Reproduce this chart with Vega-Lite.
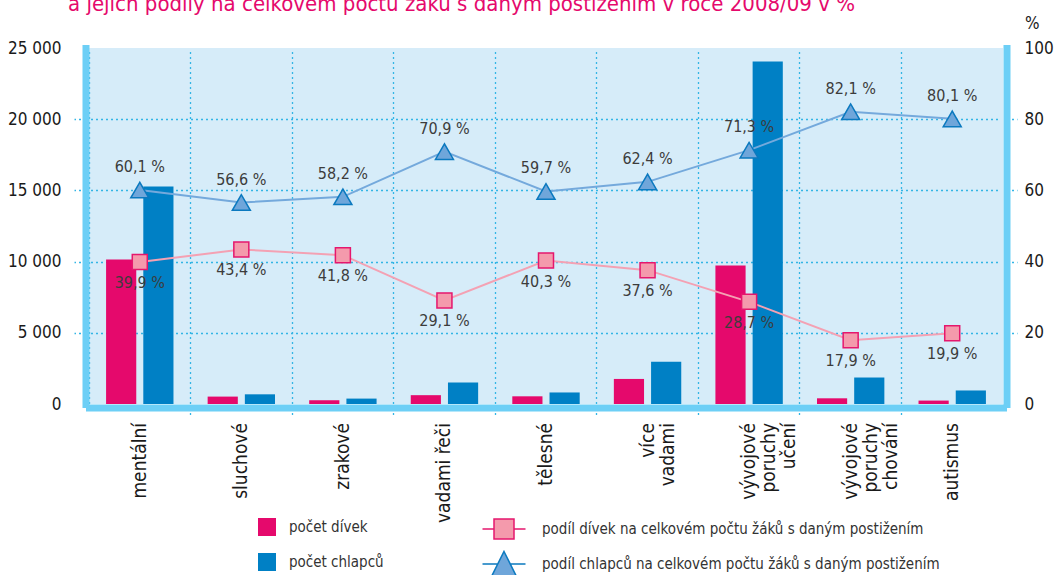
{
  "$schema": "https://vega.github.io/schema/vega-lite/v6.json",
  "width": 914,
  "height": 356,
  "autosize": {"type": "none"},
  "padding": {"left": 89, "top": 48, "right": 52, "bottom": 171},
  "background": "white",
  "title": {
    "text": "a jejich podíly na celkovém počtu žáků s daným postižením v roce 2008/09 v %",
    "anchor": "start",
    "frame": "group",
    "dx": -21,
    "offset": -24,
    "fontSize": 22,
    "fontWeight": "normal",
    "color": "#E5096C",
    "baseline": "bottom"
  },
  "datasets": {
    "pocty": [
      {"kategorie": "mentální", "serie": "počet dívek", "pocet": 10150},
      {"kategorie": "mentální", "serie": "počet chlapců", "pocet": 15270},
      {"kategorie": "sluchové", "serie": "počet dívek", "pocet": 520},
      {"kategorie": "sluchové", "serie": "počet chlapců", "pocet": 680},
      {"kategorie": "zrakové", "serie": "počet dívek", "pocet": 270},
      {"kategorie": "zrakové", "serie": "počet chlapců", "pocet": 380},
      {"kategorie": "vadami řeči", "serie": "počet dívek", "pocet": 620},
      {"kategorie": "vadami řeči", "serie": "počet chlapců", "pocet": 1510},
      {"kategorie": "tělesné", "serie": "počet dívek", "pocet": 540},
      {"kategorie": "tělesné", "serie": "počet chlapců", "pocet": 810},
      {"kategorie": "více vadami", "serie": "počet dívek", "pocet": 1760},
      {"kategorie": "více vadami", "serie": "počet chlapců", "pocet": 2960},
      {"kategorie": "vývojové poruchy učení", "serie": "počet dívek", "pocet": 9730},
      {"kategorie": "vývojové poruchy učení", "serie": "počet chlapců", "pocet": 24050},
      {"kategorie": "vývojové poruchy chování", "serie": "počet dívek", "pocet": 400},
      {"kategorie": "vývojové poruchy chování", "serie": "počet chlapců", "pocet": 1860},
      {"kategorie": "autismus", "serie": "počet dívek", "pocet": 240},
      {"kategorie": "autismus", "serie": "počet chlapců", "pocet": 950}
    ],
    "podily": [
      {"kategorie": "mentální", "serie": "podíl dívek na celkovém počtu žáků s daným postižením", "podil": 0.399},
      {"kategorie": "mentální", "serie": "podíl chlapců na celkovém počtu žáků s daným postižením", "podil": 0.601},
      {"kategorie": "sluchové", "serie": "podíl dívek na celkovém počtu žáků s daným postižením", "podil": 0.434},
      {"kategorie": "sluchové", "serie": "podíl chlapců na celkovém počtu žáků s daným postižením", "podil": 0.566},
      {"kategorie": "zrakové", "serie": "podíl dívek na celkovém počtu žáků s daným postižením", "podil": 0.418},
      {"kategorie": "zrakové", "serie": "podíl chlapců na celkovém počtu žáků s daným postižením", "podil": 0.582},
      {"kategorie": "vadami řeči", "serie": "podíl dívek na celkovém počtu žáků s daným postižením", "podil": 0.291},
      {"kategorie": "vadami řeči", "serie": "podíl chlapců na celkovém počtu žáků s daným postižením", "podil": 0.709},
      {"kategorie": "tělesné", "serie": "podíl dívek na celkovém počtu žáků s daným postižením", "podil": 0.403},
      {"kategorie": "tělesné", "serie": "podíl chlapců na celkovém počtu žáků s daným postižením", "podil": 0.597},
      {"kategorie": "více vadami", "serie": "podíl dívek na celkovém počtu žáků s daným postižením", "podil": 0.376},
      {"kategorie": "více vadami", "serie": "podíl chlapců na celkovém počtu žáků s daným postižením", "podil": 0.624},
      {"kategorie": "vývojové poruchy učení", "serie": "podíl dívek na celkovém počtu žáků s daným postižením", "podil": 0.287},
      {"kategorie": "vývojové poruchy učení", "serie": "podíl chlapců na celkovém počtu žáků s daným postižením", "podil": 0.713},
      {"kategorie": "vývojové poruchy chování", "serie": "podíl dívek na celkovém počtu žáků s daným postižením", "podil": 0.179},
      {"kategorie": "vývojové poruchy chování", "serie": "podíl chlapců na celkovém počtu žáků s daným postižením", "podil": 0.821},
      {"kategorie": "autismus", "serie": "podíl dívek na celkovém počtu žáků s daným postižením", "podil": 0.199},
      {"kategorie": "autismus", "serie": "podíl chlapců na celkovém počtu žáků s daným postižením", "podil": 0.801}
    ]
  },
  "config": {
    "font": "DejaVu Sans Condensed, DejaVu Sans, sans-serif",
    "locale": {"number": {"decimal": ",", "thousands": " ", "grouping": [3], "currency": ["", ""], "percent": " %"}},
    "view": {"fill": "#D6ECF9", "stroke": null},
    "legend": {"labelLimit": 500},
    "axis": {
      "domainColor": "#6DCFF6",
      "domainWidth": 7,
      "domainCap": "square",
      "offset": 3.5,
      "tickColor": "#33B5E5",
      "tickDash": [2, 3],
      "tickWidth": 1.3,
      "gridColor": "#33B5E5",
      "gridDash": [2, 3],
      "gridWidth": 1.3,
      "labelFontSize": 17,
      "labelColor": "#1a1a1a"
    }
  },
  "encoding": {
    "x": {
      "field": "kategorie",
      "type": "nominal",
      "sort": ["mentální", "sluchové", "zrakové", "vadami řeči", "tělesné", "více vadami", "vývojové poruchy učení", "vývojové poruchy chování", "autismus"],
      "scale": {"paddingInner": 0, "paddingOuter": 0},
      "title": null,
      "axis": {
        "orient": "bottom",
        "bandPosition": 0,
        "grid": true,
        "tickSize": 8,
        "tickOpacity": {"condition": {"test": "datum.value === 'mentální'", "value": 0}, "value": 1},
        "labelAngle": -90,
        "labelAlign": "right",
        "labelBaseline": "middle",
        "labelPadding": 7,
        "labelFontSize": 19,
        "labelLineHeight": 20,
        "labelExpr": "datum.label === 'vadami řeči' ? datum.label : split(datum.label, ' ')"
      }
    }
  },
  "layer": [
    {
      "data": {"name": "pocty"},
      "mark": {"type": "bar"},
      "encoding": {
        "xOffset": {"field": "serie", "type": "nominal", "sort": ["počet dívek", "počet chlapců"], "scale": {"paddingInner": 0.189, "paddingOuter": 0.459}},
        "y": {
          "field": "pocet",
          "type": "quantitative",
          "scale": {"domain": [0, 25000]},
          "title": null,
          "axis": {
            "orient": "left",
            "values": [0, 5000, 10000, 15000, 20000, 25000],
            "format": ",d",
            "grid": true,
            "gridOpacity": {"condition": {"test": "datum.value === 25000 || datum.value === 0", "value": 0}, "value": 1},
            "tickSize": 11.5,
            "tickOpacity": {"condition": {"test": "datum.value === 25000 || datum.value === 0", "value": 0}, "value": 1},
            "labelPadding": 13
          }
        },
        "color": {
          "field": "serie",
          "type": "nominal",
          "scale": {"domain": ["počet dívek", "počet chlapců"], "range": ["#E5096C", "#0080C5"]},
          "legend": {
            "title": null,
            "orient": "none",
            "legendX": 169,
            "legendY": 470,
            "direction": "vertical",
            "symbolType": "square",
            "symbolSize": 324,
            "symbolStrokeWidth": 0,
            "symbolOpacity": 1,
            "labelFontSize": 15,
            "labelColor": "#333333",
            "labelOffset": 13,
            "rowPadding": 17,
            "padding": 0
          }
        }
      }
    },
    {
      "data": {"name": "podily"},
      "encoding": {
        "y": {
          "field": "podil",
          "type": "quantitative",
          "scale": {"domain": [0, 1]},
          "title": "%",
          "axis": {
            "orient": "right",
            "values": [0, 0.2, 0.4, 0.6, 0.8, 1],
            "labelExpr": "format(datum.value * 100, 'd')",
            "grid": false,
            "tickSize": 10.5,
            "tickOpacity": {"condition": {"test": "datum.value === 1 || datum.value === 0", "value": 0}, "value": 1},
            "labelPadding": 7,
            "titleAngle": 0,
            "titleAlign": "left",
            "titleBaseline": "middle",
            "titleX": 18,
            "titleY": -25,
            "titleFontSize": 17,
            "titleFontWeight": "normal",
            "titleColor": "#1a1a1a"
          }
        }
      },
      "layer": [
        {
          "transform": [{"filter": "datum.serie === 'podíl dívek na celkovém počtu žáků s daným postižením'"}],
          "mark": {"type": "line", "color": "#F4A1B3", "strokeWidth": 2}
        },
        {
          "transform": [{"filter": "datum.serie === 'podíl chlapců na celkovém počtu žáků s daným postižením'"}],
          "mark": {"type": "line", "color": "#74A9DC", "strokeWidth": 2}
        },
        {
          "transform": [{"filter": "datum.serie === 'podíl dívek na celkovém počtu žáků s daným postižením'"}],
          "mark": {"type": "point", "filled": true, "opacity": 1, "stroke": "#E5176D", "strokeWidth": 1.5, "shape": "square", "size": 225},
          "encoding": {
            "fill": {
              "field": "serie",
              "type": "nominal",
              "scale": {"domain": ["podíl dívek na celkovém počtu žáků s daným postižením"], "range": ["#F49AAC"]},
              "legend": {
                "title": null,
                "orient": "none",
                "legendX": 404,
                "legendY": 470,
                "symbolType": "M-2.15,0H-1M1,0H2.15M-1,-1H1V1H-1Z",
                "symbolSize": 400,
                "symbolStrokeColor": "#E5176D",
                "symbolStrokeWidth": 1.5,
                "symbolOpacity": 1,
                "labelFontSize": 15,
                "labelColor": "#333333",
                "labelOffset": 27,
                "labelLimit": 500,
                "padding": 0
              }
            }
          }
        },
        {
          "transform": [{"filter": "datum.serie === 'podíl chlapců na celkovém počtu žáků s daným postižením'"}],
          "mark": {"type": "point", "filled": true, "opacity": 1, "fill": "#6FA6DA", "strokeWidth": 1.5, "shape": "triangle-up", "size": 324},
          "encoding": {
            "stroke": {
              "field": "serie",
              "type": "nominal",
              "scale": {"domain": ["podíl chlapců na celkovém počtu žáků s daným postižením"], "range": ["#0B79BF"]},
              "legend": {
                "title": null,
                "orient": "none",
                "legendX": 404,
                "legendY": 505,
                "symbolType": "M-2.15,0H-0.625M0.625,0H2.15M0,-1.25L1.25,1.25L-1.25,1.25Z",
                "symbolSize": 400,
                "symbolFillColor": "#6FA6DA",
                "symbolStrokeWidth": 1.5,
                "symbolOpacity": 1,
                "labelFontSize": 15,
                "labelColor": "#333333",
                "labelOffset": 27,
                "labelLimit": 500,
                "padding": 0
              }
            }
          }
        },
        {
          "transform": [{"filter": "datum.serie === 'podíl chlapců na celkovém počtu žáků s daným postižením'"}],
          "mark": {"type": "text", "dy": -23, "fontSize": 16, "color": "#3c3c3c"},
          "encoding": {"text": {"field": "podil", "type": "quantitative", "format": ".1%"}}
        },
        {
          "transform": [{"filter": "datum.serie === 'podíl dívek na celkovém počtu žáků s daným postižením'"}],
          "mark": {"type": "text", "dy": 21, "fontSize": 16, "color": "#3c3c3c"},
          "encoding": {"text": {"field": "podil", "type": "quantitative", "format": ".1%"}}
        }
      ]
    }
  ],
  "resolve": {"scale": {"y": "independent"}}
}
